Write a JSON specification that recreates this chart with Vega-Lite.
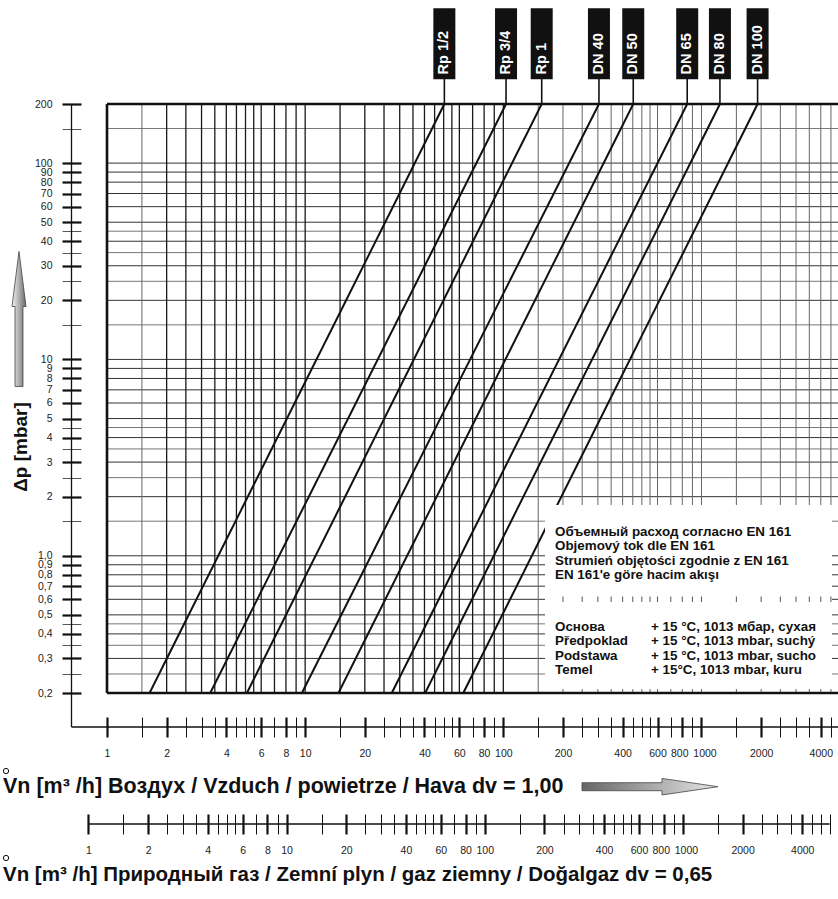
{
  "$schema": "https://vega.github.io/schema/vega-lite/v6.json",
  "width": 733,
  "height": 589,
  "autosize": {"type": "none"},
  "padding": {"left": 107, "top": 104, "right": 0, "bottom": 206},
  "background": "white",
  "config": {"view": {"stroke": null}, "font": "Liberation Sans", "text": {"font": "Liberation Sans"}},
  "datasets": {
    "lines": [
      {"size": "Rp 1/2", "q": 1.64, "dp": 0.2}, {"size": "Rp 1/2", "q": 50.4, "dp": 200},
      {"size": "Rp 3/4", "q": 3.319, "dp": 0.2}, {"size": "Rp 3/4", "q": 103.2, "dp": 200},
      {"size": "Rp 1", "q": 5.082, "dp": 0.2}, {"size": "Rp 1", "q": 156.2, "dp": 200},
      {"size": "DN 40", "q": 9.625, "dp": 0.2}, {"size": "DN 40", "q": 303.8, "dp": 200},
      {"size": "DN 50", "q": 14.72, "dp": 0.2}, {"size": "DN 50", "q": 452.5, "dp": 200},
      {"size": "DN 65", "q": 27.36, "dp": 0.2}, {"size": "DN 65", "q": 847, "dp": 200},
      {"size": "DN 80", "q": 40.3, "dp": 0.2}, {"size": "DN 80", "q": 1239, "dp": 200},
      {"size": "DN 100", "q": 62.8, "dp": 0.2}, {"size": "DN 100", "q": 1919, "dp": 200}
    ],
    "hDark": [{"v": 100}, {"v": 90}, {"v": 80}, {"v": 70}, {"v": 60}, {"v": 50}, {"v": 40}, {"v": 30}, {"v": 20}, {"v": 10}, {"v": 9}, {"v": 8}, {"v": 7}, {"v": 6}, {"v": 5}, {"v": 4}, {"v": 3}, {"v": 2}, {"v": 1}, {"v": 0.9}, {"v": 0.8}, {"v": 0.7}, {"v": 0.6}, {"v": 0.5}, {"v": 0.4}, {"v": 0.3}],
    "hLight": [{"v": 150}, {"v": 45}, {"v": 35}, {"v": 25}, {"v": 15}, {"v": 4.5}, {"v": 3.5}, {"v": 2.5}, {"v": 1.5}, {"v": 0.45}, {"v": 0.35}, {"v": 0.25}],
    "vDark": [{"v": 2}, {"v": 2.5}, {"v": 3}, {"v": 3.5}, {"v": 4}, {"v": 4.5}, {"v": 5}, {"v": 5.5}, {"v": 6}, {"v": 7}, {"v": 8}, {"v": 9}, {"v": 10}, {"v": 15}, {"v": 20}, {"v": 25}, {"v": 30}, {"v": 35}, {"v": 40}, {"v": 45}, {"v": 50}, {"v": 55}, {"v": 60}, {"v": 70}, {"v": 80}, {"v": 90}, {"v": 100}],
    "vLight": [{"v": 1.5}, {"v": 150}, {"v": 200}, {"v": 250}, {"v": 300}, {"v": 350}, {"v": 400}, {"v": 450}, {"v": 500}, {"v": 550}, {"v": 600}, {"v": 700}, {"v": 800}, {"v": 900}, {"v": 1000}, {"v": 1500}, {"v": 2000}, {"v": 2500}, {"v": 3000}, {"v": 3500}, {"v": 4000}, {"v": 4500}],
    "one": [{}]
  },
  "resolve": {"scale": {"x": "independent"}, "axis": {"x": "independent"}},
  "layer": [
    {
      "data": {"name": "hLight"},
      "mark": {"type": "rule", "color": "#777", "strokeWidth": 1},
      "encoding": {"y": {"field": "v", "type": "quantitative", "scale": {"type": "log", "domain": [0.2, 200]},
        "axis": {"orient": "left", "offset": 26, "domain": false, "grid": false, "tickSize": 19, "title": null,
          "values": [200, 150, 100, 90, 80, 70, 60, 50, 45, 40, 35, 30, 25, 20, 15, 10, 9, 8, 7, 6, 5, 4.5, 4, 3.5, 3, 2.5, 2, 1.5, 1, 0.9, 0.8, 0.7, 0.6, 0.5, 0.45, 0.4, 0.35, 0.3, 0.25, 0.2],
          "labelExpr": "indexof([150,45,35,25,15,4.5,3.5,2.5,1.5,0.45,0.35,0.25], datum.value) >= 0 ? '' : (datum.value == 1 ? '1,0' : replace(toString(datum.value), '.', ','))",
          "tickWidth": {"condition": {"test": "indexof([150,45,35,25,15,4.5,3.5,2.5,1.5,0.45,0.35,0.25], datum.value) >= 0", "value": 1}, "value": 2.2},
          "tickColor": {"condition": {"test": "indexof([150,45,35,25,15,4.5,3.5,2.5,1.5,0.45,0.35,0.25], datum.value) >= 0", "value": "#555"}, "value": "#111"},
          "labelFont": "Liberation Sans", "labelFontSize": 10.5, "labelColor": "#222", "labelPadding": 10,
          "labelOverlap": false, "labelFlush": false, "labelBound": false}}}
    },
    {
      "data": {"name": "hDark"},
      "mark": {"type": "rule", "color": "#333", "strokeWidth": 1},
      "encoding": {"y": {"field": "v", "type": "quantitative", "scale": {"type": "log", "domain": [0.2, 200]}}}
    },
    {
      "data": {"name": "vLight"},
      "mark": {"type": "rule", "color": "#666", "strokeWidth": 1},
      "encoding": {"x": {"field": "v", "type": "quantitative", "scale": {"type": "log", "domain": [1, 5000]},
        "axis": {"orient": "bottom", "offset": 24, "domain": false, "grid": false, "tickSize": 20, "title": null,
          "values": [1, 1.5, 2, 2.5, 3, 3.5, 4, 4.5, 5, 5.5, 6, 7, 8, 9, 10, 15, 20, 25, 30, 35, 40, 45, 50, 55, 60, 70, 80, 90, 100, 150, 200, 250, 300, 350, 400, 450, 500, 550, 600, 700, 800, 900, 1000, 1500, 2000, 2500, 3000, 3500, 4000, 4500],
          "labelExpr": "indexof([1,2,4,6,8,10,20,40,60,80,100,200,400,600,800,1000,2000,4000], datum.value) >= 0 ? toString(datum.value) : ''",
          "tickWidth": {"condition": {"test": "indexof([1,2,4,6,8,10,20,40,60,80,100,200,400,600,800,1000,2000,4000], datum.value) >= 0", "value": 2.2}, "value": 1},
          "labelOffset": {"condition": [{"test": "datum.value == 800", "value": -3}, {"test": "datum.value == 1000", "value": 3}], "value": 0},
          "tickColor": "#111",
          "labelFont": "Liberation Sans", "labelFontSize": 10.5, "labelColor": "#222", "labelPadding": 11,
          "labelOverlap": false, "labelFlush": false, "labelBound": false}}}
    },
    {
      "data": {"name": "vDark"},
      "mark": {"type": "rule", "color": "#1a1a1a", "strokeWidth": 1.3},
      "encoding": {"x": {"field": "v", "type": "quantitative", "scale": {"type": "log", "domain": [1, 5000]}, "axis": null}}
    },
    {
      "data": {"name": "lines"},
      "mark": {"type": "line", "color": "#111", "strokeWidth": 2},
      "encoding": {
        "x": {"field": "q", "type": "quantitative", "scale": {"type": "log", "domain": [1, 5000]}, "axis": null},
        "y": {"field": "dp", "type": "quantitative", "scale": {"type": "log", "domain": [0.2, 200]}},
        "detail": {"field": "size"}
      }
    },
    {
      "data": {"name": "one"},
      "mark": {"type": "rect", "fill": "white", "clip": false},
      "encoding": {
        "x": {"datum": 162.3, "type": "quantitative", "scale": {"type": "log", "domain": [1, 5000]}, "axis": null},
        "x2": {"datum": 4557},
        "y": {"datum": 1.814, "type": "quantitative", "scale": {"type": "log", "domain": [0.2, 200]}},
        "y2": {"datum": 0.2096}
      }
    },
    {
      "data": {"name": "vLight"},
      "transform": [{"filter": "datum.v > 162.3 && datum.v < 4557"}],
      "mark": {"type": "rule", "color": "#555", "strokeWidth": 1},
      "encoding": {
        "x": {"field": "v", "type": "quantitative", "scale": {"type": "log", "domain": [1, 5000]}, "axis": null},
        "y": {"datum": 0.62, "type": "quantitative", "scale": {"type": "log", "domain": [0.2, 200]}},
        "y2": {"datum": 0.5816}
      }
    },
    {
      "data": {"name": "one"},
      "mark": {"type": "rule", "color": "#111", "strokeWidth": 2.6, "clip": false},
      "encoding": {"y": {"datum": 200, "type": "quantitative", "scale": {"type": "log", "domain": [0.2, 200]}}}
    },
    {
      "data": {"name": "one"},
      "mark": {"type": "rule", "color": "#111", "strokeWidth": 2.6, "clip": false},
      "encoding": {"y": {"datum": 0.2, "type": "quantitative", "scale": {"type": "log", "domain": [0.2, 200]}}}
    },
    {
      "data": {"name": "one"},
      "mark": {"type": "rule", "color": "#111", "strokeWidth": 2.6, "clip": false},
      "encoding": {"x": {"datum": 1, "type": "quantitative", "scale": {"type": "log", "domain": [1, 5000]}, "axis": null}}
    },
    {
      "data": {"name": "one"},
      "mark": {"type": "text", "align": "left", "baseline": "alphabetic", "font": "Liberation Sans", "fontWeight": "bold", "fontSize": 13.4, "lineHeight": 14.5, "color": "#111",
        "text": ["Объемный расход согласно EN 161", "Objemový tok dle EN 161", "Strumień objętości zgodnie z EN 161", "EN 161'e göre hacim akışı"]},
      "encoding": {
        "x": {"datum": 182.3, "type": "quantitative", "scale": {"type": "log", "domain": [1, 5000]}, "axis": null},
        "y": {"datum": 1.261, "type": "quantitative", "scale": {"type": "log", "domain": [0.2, 200]}}
      }
    },
    {
      "data": {"name": "one"},
      "mark": {"type": "text", "align": "left", "baseline": "alphabetic", "font": "Liberation Sans", "fontWeight": "bold", "fontSize": 13.4, "lineHeight": 14.5, "color": "#111",
        "text": ["Основа", "Předpoklad", "Podstawa", "Temel"]},
      "encoding": {
        "x": {"datum": 182.3, "type": "quantitative", "scale": {"type": "log", "domain": [1, 5000]}, "axis": null},
        "y": {"datum": 0.4152, "type": "quantitative", "scale": {"type": "log", "domain": [0.2, 200]}}
      }
    },
    {
      "data": {"name": "one"},
      "mark": {"type": "text", "align": "left", "baseline": "alphabetic", "font": "Liberation Sans", "fontWeight": "bold", "fontSize": 13.4, "lineHeight": 14.5, "color": "#111",
        "text": ["+ 15 °C, 1013 мбар, сухая", "+ 15 °C, 1013 mbar, suchý", "+ 15 °C, 1013 mbar, sucho", "+ 15°C, 1013 mbar, kuru"]},
      "encoding": {
        "x": {"datum": 556.3, "type": "quantitative", "scale": {"type": "log", "domain": [1, 5000]}, "axis": null},
        "y": {"datum": 0.4152, "type": "quantitative", "scale": {"type": "log", "domain": [0.2, 200]}}
      }
    },
    {
      "data": {"name": "lines"},
      "transform": [{"filter": "datum.dp == 200"}],
      "mark": {"type": "rule", "color": "#111", "strokeWidth": 1.6, "clip": false},
      "encoding": {
        "x": {"field": "q", "type": "quantitative", "scale": {"type": "log", "domain": [1, 5000]}, "axis": null},
        "y": {"datum": 200, "type": "quantitative", "scale": {"type": "log", "domain": [0.2, 200]}},
        "y2": {"datum": 268}
      }
    },
    {
      "data": {"name": "lines"},
      "transform": [{"filter": "datum.dp == 200"}],
      "mark": {"type": "rule", "color": "#111", "strokeWidth": 22, "clip": false},
      "encoding": {
        "x": {"field": "q", "type": "quantitative", "scale": {"type": "log", "domain": [1, 5000]}, "axis": null},
        "y": {"datum": 267.2, "type": "quantitative", "scale": {"type": "log", "domain": [0.2, 200]}},
        "y2": {"datum": 614.6}
      }
    },
    {
      "data": {"name": "lines"},
      "transform": [{"filter": "datum.dp == 200"}],
      "mark": {"type": "text", "angle": 270, "align": "left", "baseline": "middle", "color": "white", "font": "Liberation Sans", "fontWeight": "bold", "fontSize": 14.5, "clip": false},
      "encoding": {
        "x": {"field": "q", "type": "quantitative", "scale": {"type": "log", "domain": [1, 5000]}, "axis": null},
        "y": {"datum": 283, "type": "quantitative", "scale": {"type": "log", "domain": [0.2, 200]}},
        "text": {"field": "size"}
      }
    },
    {
      "data": {"name": "one"},
      "mark": {"type": "rule", "color": "#111", "strokeWidth": 1.3, "clip": false},
      "encoding": {
        "x": {"datum": 0.662, "type": "quantitative", "scale": {"type": "log", "domain": [1, 5000]}, "axis": null},
        "y": {"datum": 200, "type": "quantitative", "scale": {"type": "log", "domain": [0.2, 200]}},
        "y2": {"datum": 0.1342}
      }
    },
    {
      "data": {"name": "one"},
      "mark": {"type": "rule", "color": "#111", "strokeWidth": 1.3, "clip": false},
      "encoding": {
        "x": {"datum": 0.662, "type": "quantitative", "scale": {"type": "log", "domain": [1, 5000]}, "axis": null},
        "x2": {"datum": 5000},
        "y": {"datum": 0.1342, "type": "quantitative", "scale": {"type": "log", "domain": [0.2, 200]}}
      }
    },
    {
      "data": {"name": "one"},
      "mark": {"type": "text", "angle": 270, "align": "center", "baseline": "middle", "font": "Liberation Sans", "fontWeight": "bold", "fontSize": 19, "color": "#111", "text": "Δp [mbar]", "clip": false},
      "encoding": {
        "x": {"datum": 0.37, "type": "quantitative", "scale": {"type": "log", "domain": [1, 5000]}, "axis": null},
        "y": {"datum": 3.58, "type": "quantitative", "scale": {"type": "log", "domain": [0.2, 200]}}
      }
    },
    {
      "data": {"name": "one"},
      "mark": {"type": "point", "shape": "M0,-1 L0.104,-0.185 L0.059,-0.185 L0.059,1 L-0.059,1 L-0.059,-0.185 L-0.104,-0.185 Z", "size": 18225, "filled": true, "opacity": 1, "strokeWidth": 0.8, "stroke": "#444",
        "fill": {"gradient": "linear", "x1": 0, "y1": 0, "x2": 1, "y2": 0, "stops": [{"offset": 0, "color": "#f2f2f2"}, {"offset": 1, "color": "#6a6a6a"}]}, "clip": false},
      "encoding": {
        "x": {"datum": 0.3597, "type": "quantitative", "scale": {"type": "log", "domain": [1, 5000]}, "axis": null},
        "y": {"datum": 16.07, "type": "quantitative", "scale": {"type": "log", "domain": [0.2, 200]}}
      }
    },
    {
      "data": {"name": "one"},
      "mark": {"type": "point", "shape": "M1,0 L0.176,-0.122 L0.176,-0.059 L-1,-0.059 L-1,0.059 L0.176,0.059 L0.176,0.122 Z", "size": 18496, "filled": true, "opacity": 1, "strokeWidth": 0.8, "stroke": "#444",
        "fill": {"gradient": "linear", "x1": 0, "y1": 0, "x2": 1, "y2": 0, "stops": [{"offset": 0, "color": "#666"}, {"offset": 1, "color": "#e6e6e6"}]}, "clip": false},
      "encoding": {
        "x": {"datum": 549.7, "type": "quantitative", "scale": {"type": "log", "domain": [1, 5000]}, "axis": null},
        "y": {"datum": 0.06664, "type": "quantitative", "scale": {"type": "log", "domain": [0.2, 200]}}
      }
    },
    {
      "data": {"name": "one"},
      "mark": {"type": "text", "align": "left", "baseline": "alphabetic", "font": "Liberation Sans", "fontWeight": "bold", "fontSize": 21.5, "color": "#111", "text": "Vn [m³ /h] Воздух / Vzduch / powietrze / Hava dv = 1,00", "clip": false},
      "encoding": {
        "x": {"datum": 0.2986, "type": "quantitative", "scale": {"type": "log", "domain": [1, 5000]}, "axis": null},
        "y": {"datum": 0.0619, "type": "quantitative", "scale": {"type": "log", "domain": [0.2, 200]}}
      }
    },
    {
      "data": {"name": "one"},
      "mark": {"type": "text", "align": "left", "baseline": "alphabetic", "font": "Liberation Sans", "fontWeight": "bold", "fontSize": 20.5, "color": "#111", "text": "Vn [m³ /h] Природный газ / Zemní plyn / gaz ziemny / Doğalgaz dv = 0,65", "clip": false},
      "encoding": {
        "x": {"datum": 0.2986, "type": "quantitative", "scale": {"type": "log", "domain": [1, 5000]}, "axis": null},
        "y": {"datum": 0.02206, "type": "quantitative", "scale": {"type": "log", "domain": [0.2, 200]}}
      }
    },
    {
      "data": {"name": "one"},
      "mark": {"type": "point", "shape": "circle", "size": 28, "filled": false, "stroke": "#111", "strokeWidth": 1, "opacity": 1, "clip": false},
      "encoding": {
        "x": {"datum": 0.3093, "type": "quantitative", "scale": {"type": "log", "domain": [1, 5000]}, "axis": null},
        "y": {"datum": 0.0801, "type": "quantitative", "scale": {"type": "log", "domain": [0.2, 200]}}
      }
    },
    {
      "data": {"name": "one"},
      "mark": {"type": "point", "shape": "circle", "size": 28, "filled": false, "stroke": "#111", "strokeWidth": 1, "opacity": 1, "clip": false},
      "encoding": {
        "x": {"datum": 0.3093, "type": "quantitative", "scale": {"type": "log", "domain": [1, 5000]}, "axis": null},
        "y": {"datum": 0.02888, "type": "quantitative", "scale": {"type": "log", "domain": [0.2, 200]}}
      }
    },
    {
      "data": {"name": "one"},
      "mark": {"type": "rule", "color": "#111", "strokeWidth": 1.3, "clip": false},
      "encoding": {
        "x": {"datum": 1, "type": "quantitative", "scale": {"type": "log", "domain": [1, 6000], "range": [-18.54, 730.14]},
          "axis": {"orient": "bottom", "offset": 121, "domain": false, "grid": false, "tickSize": 20, "title": null,
            "values": [1, 1.5, 2, 2.5, 3, 3.5, 4, 4.5, 5, 5.5, 6, 7, 8, 9, 10, 15, 20, 25, 30, 35, 40, 45, 50, 55, 60, 70, 80, 90, 100, 150, 200, 250, 300, 350, 400, 450, 500, 550, 600, 700, 800, 900, 1000, 1500, 2000, 2500, 3000, 3500, 4000, 4500, 5000, 5500],
            "labelExpr": "indexof([1,2,4,6,8,10,20,40,60,80,100,200,400,600,800,1000,2000,4000], datum.value) >= 0 ? toString(datum.value) : ''",
            "tickWidth": {"condition": {"test": "indexof([1,2,4,6,8,10,20,40,60,80,100,200,400,600,800,1000,2000,4000], datum.value) >= 0", "value": 2.2}, "value": 1},
            "labelOffset": {"condition": [{"test": "datum.value == 800", "value": -3}, {"test": "datum.value == 1000", "value": 3}], "value": 0},
            "tickColor": "#111",
            "labelFont": "Liberation Sans", "labelFontSize": 10.5, "labelColor": "#222", "labelPadding": 11,
            "labelOverlap": false, "labelFlush": false, "labelBound": false}},
        "x2": {"datum": 5500},
        "y": {"datum": 0.04304, "type": "quantitative", "scale": {"type": "log", "domain": [0.2, 200]}}
      }
    }
  ]
}
